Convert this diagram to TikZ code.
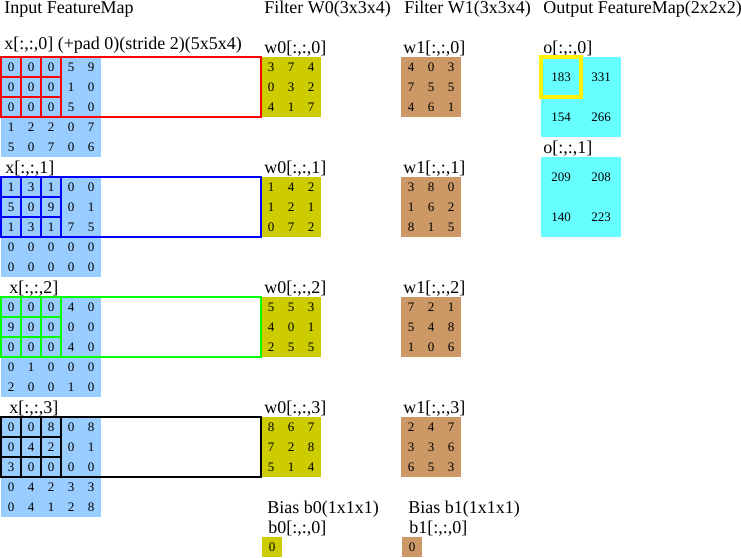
\documentclass[tikz,border=0pt]{standalone}
\usepackage{fontspec}
\setmainfont{Liberation Serif}
\usetikzlibrary{positioning}

\definecolor{inblue}{HTML}{99CCFF}
\definecolor{wzero}{HTML}{CCCC00}
\definecolor{wone}{HTML}{CC9966}
\definecolor{outcyan}{HTML}{66FFFF}

\begin{document}
\begin{tikzpicture}[x=0.75pt, y=-0.75pt,
  txt/.style={anchor=base west, inner sep=0pt, font=\fontsize{13.5}{16}\selectfont},
  num/.style={inner sep=0pt, font=\fontsize{9.75}{12}\selectfont},
  win/.style={line width=1.5pt}]
  \useasboundingbox (0,0) rectangle (741,557);

  % --- Coloured backgrounds (drawn first, numbers on top) ---
  \foreach \k in {0,1,2,3} {
    \fill[inblue] (1, 57+120*\k) rectangle (101, 157+120*\k);
    \fill[wzero] (261, 57+120*\k) rectangle (321, 117+120*\k);
    \fill[wone] (401, 57+120*\k) rectangle (461, 117+120*\k);
  }
  \fill[outcyan] (541, 57) rectangle (621, 137);
  \fill[outcyan] (541, 157) rectangle (621, 237);
  \fill[wzero] (262, 537) rectangle (282, 557);
  \fill[wone] (402, 537) rectangle (422, 557);

  % --- Column headers ---
  \node[txt] (hin) at (4, 13) {Input FeatureMap};
  \node[txt] (hwa) at (264, 13) {Filter W0(3x3x4)};
  \node[txt] (hwb) at (404, 13) {Filter W1(3x3x4)};
  \node[txt] (hout) at (543, 13) {Output FeatureMap(2x2x2)};

  % --- Slice labels ---
  \node[txt] (lx0) at (4, 49.5) {x[:,:,0] (+pad 0)(stride 2)(5x5x4)};
  \node[txt] (lx1) at (5, 173) {x[:,:,1]};
  \node[txt] (lx2) at (9, 293) {x[:,:,2]};
  \node[txt] (lx3) at (9, 413) {x[:,:,3]};
  \node[txt] (lw00) at (264, 53) {w0[:,:,0]};
  \node[txt] (lw10) at (403, 53) {w1[:,:,0]};
  \foreach \k in {1,2,3} {
    \node[txt] (lw0\k) at (264, 53+120*\k) {w0[:,:,\k]};
    \node[txt] (lw1\k) at (403, 53+120*\k) {w1[:,:,\k]};
  }
  \node[txt] (lo0) at (543, 53) {o[:,:,0]};
  \node[txt] (lo1) at (543, 153) {o[:,:,1]};
  \node[txt] (hba) at (267, 513) {Bias b0(1x1x1)};
  \node[txt] (lba) at (268, 533) {b0[:,:,0]};
  \node[txt] (hbb) at (408, 513) {Bias b1(1x1x1)};
  \node[txt] (lbb) at (409, 533) {b1[:,:,0]};

  % --- Input feature map (4 slices of 5x5) ---
  \foreach \k/\r/\a/\b/\cc/\d/\e in {
      0/0/0/0/0/5/9, 0/1/0/0/0/1/0, 0/2/0/0/0/5/0, 0/3/1/2/2/0/7, 0/4/5/0/7/0/6,
      1/0/1/3/1/0/0, 1/1/5/0/9/0/1, 1/2/1/3/1/7/5, 1/3/0/0/0/0/0, 1/4/0/0/0/0/0,
      2/0/0/0/0/4/0, 2/1/9/0/0/0/0, 2/2/0/0/0/4/0, 2/3/0/1/0/0/0, 2/4/2/0/0/1/0,
      3/0/0/0/8/0/8, 3/1/0/4/2/0/1, 3/2/3/0/0/0/0, 3/3/0/4/2/3/3, 3/4/0/4/1/2/8}
    \foreach \v [count=\col from 0] in {\a,\b,\cc,\d,\e}
      \node[num] (x\k-\r-\col) at (11+20*\col, 67+120*\k+20*\r) {\v};

  % --- Filter W0 ---
  \foreach \k/\r/\a/\b/\cc in {
      0/0/3/7/4, 0/1/0/3/2, 0/2/4/1/7,
      1/0/1/4/2, 1/1/1/2/1, 1/2/0/7/2,
      2/0/5/5/3, 2/1/4/0/1, 2/2/2/5/5,
      3/0/8/6/7, 3/1/7/2/8, 3/2/5/1/4}
    \foreach \v [count=\col from 0] in {\a,\b,\cc}
      \node[num] (w0-\k-\r-\col) at (271+20*\col, 67+120*\k+20*\r) {\v};

  % --- Filter W1 ---
  \foreach \k/\r/\a/\b/\cc in {
      0/0/4/0/3, 0/1/7/5/5, 0/2/4/6/1,
      1/0/3/8/0, 1/1/1/6/2, 1/2/8/1/5,
      2/0/7/2/1, 2/1/5/4/8, 2/2/1/0/6,
      3/0/2/4/7, 3/1/3/3/6, 3/2/6/5/3}
    \foreach \v [count=\col from 0] in {\a,\b,\cc}
      \node[num] (w1-\k-\r-\col) at (411+20*\col, 67+120*\k+20*\r) {\v};

  % --- Biases ---
  \node[num] (b0) at (272, 547) {0};
  \node[num] (b1) at (412, 547) {0};

  % --- Output feature map (2 slices of 2x2) ---
  \foreach \k/\r/\a/\b in {0/0/183/331, 0/1/154/266, 1/0/209/208, 1/1/140/223} {
    \node[num] (o\k-\r-0) at (561, 77+100*\k+40*\r) {\a};
    \node[num] (o\k-\r-1) at (601, 77+100*\k+40*\r) {\b};
  }

  % --- Receptive field windows ---
  \foreach \k/\clr in {0/red, 1/blue, 2/green, 3/black} {
    \foreach \i in {0,1,2}
      \foreach \j in {0,1,2}
        \draw[win, \clr] ([shift={(-10,-10)}]x\k-\i-\j.center) rectangle ([shift={(10,10)}]x\k-\i-\j.center);
    \draw[win, \clr] ([shift={(10,-10)}]x\k-0-2.center) rectangle ([shift={(-10,10)}]w0-\k-2-0.center);
  }

  % --- Current output cell ---
  \draw[yellow, line width=3pt] ([shift={(-20,-20)}]o0-0-0.center) rectangle ([shift={(20,20)}]o0-0-0.center);
\end{tikzpicture}
\end{document}
